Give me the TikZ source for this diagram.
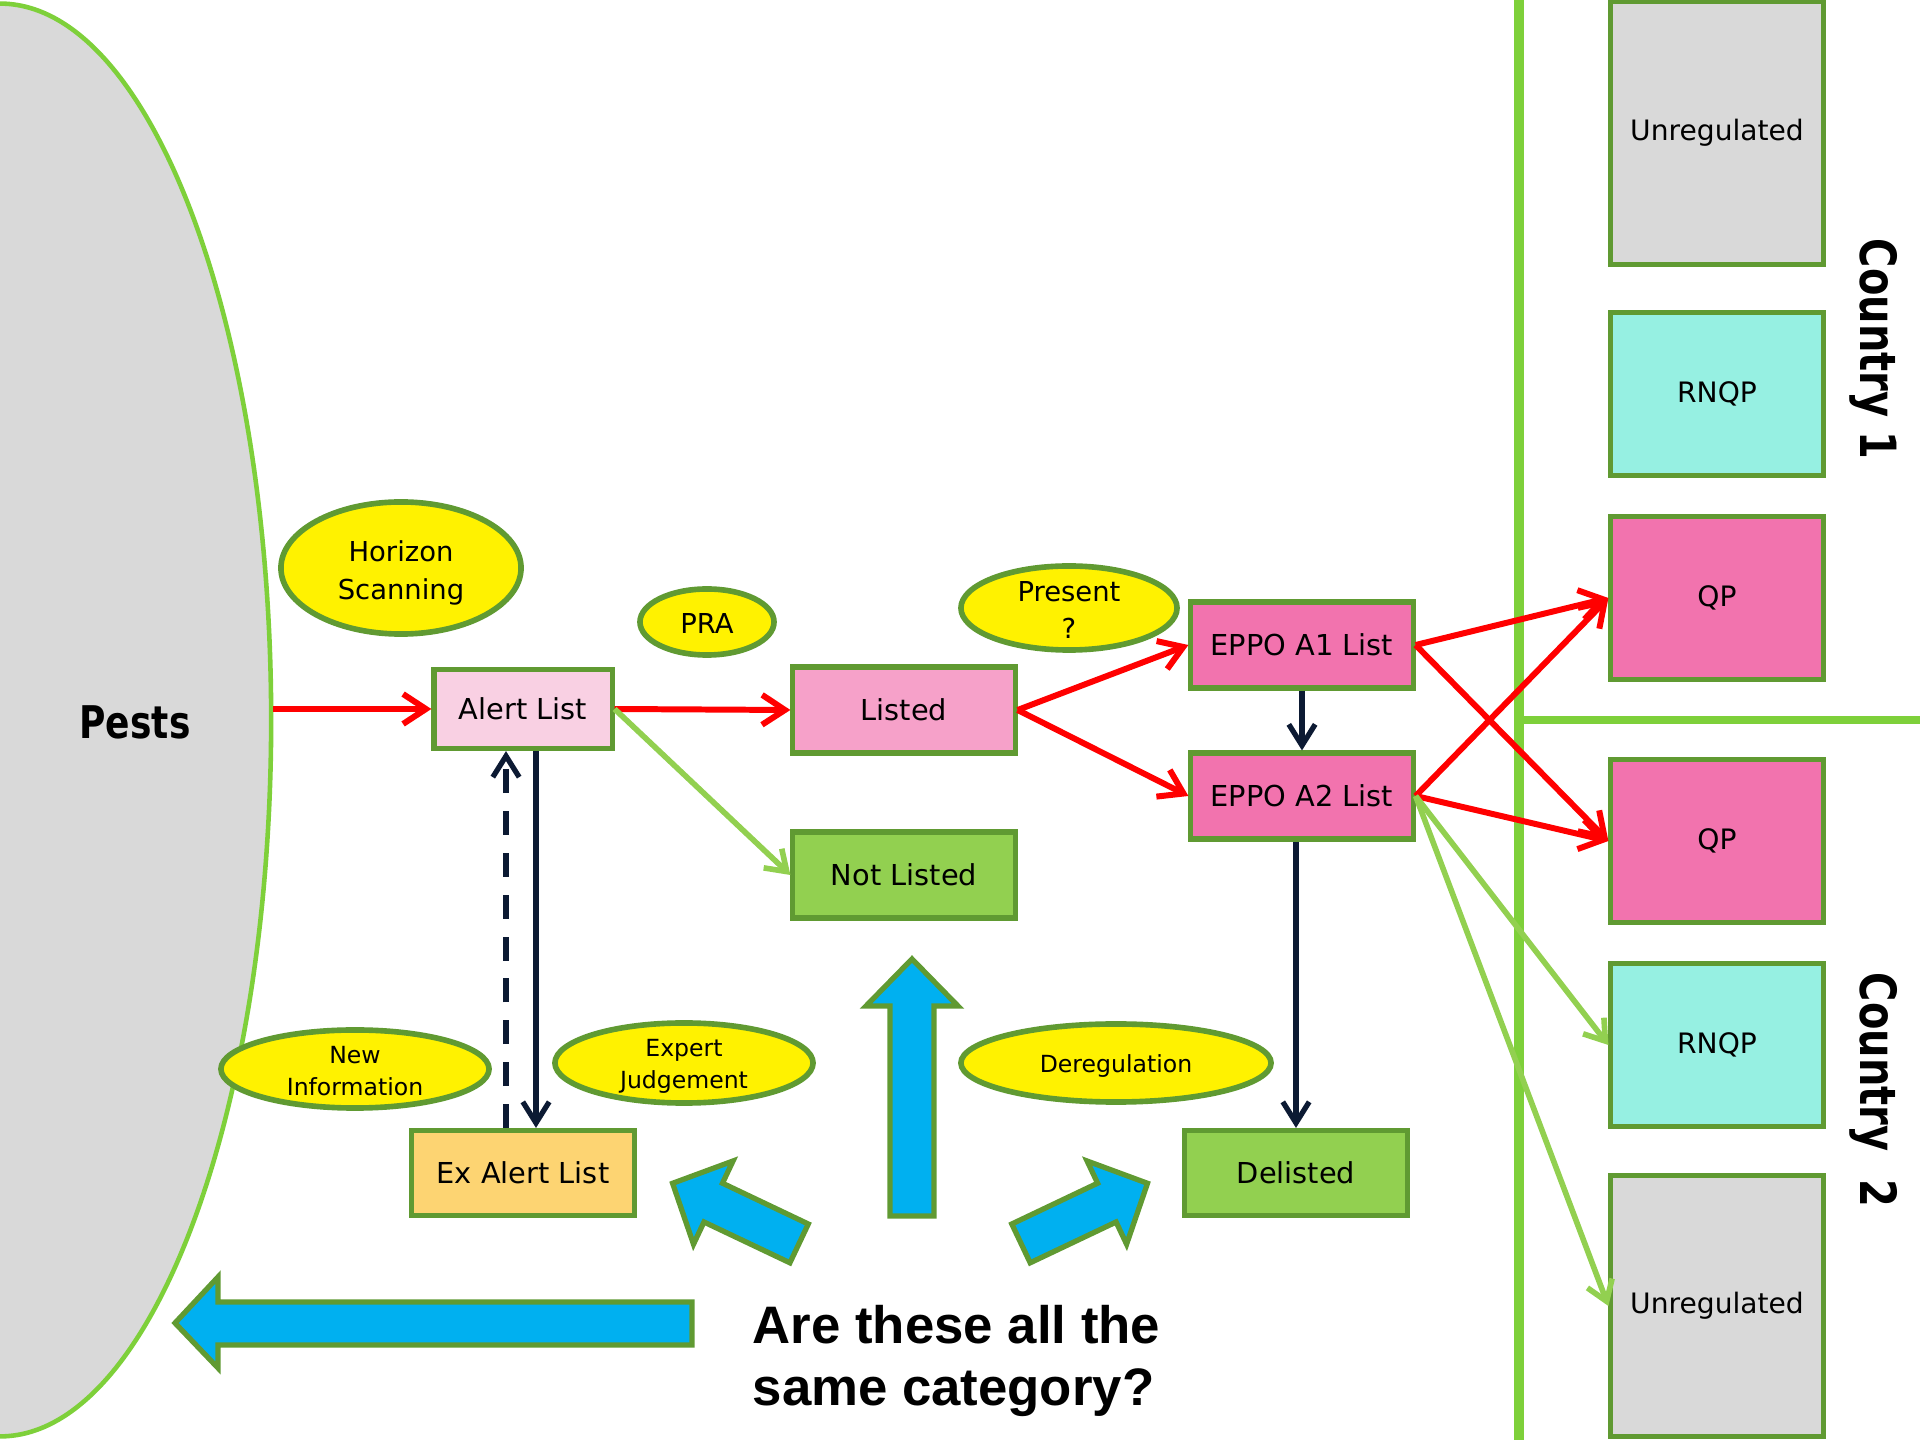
\documentclass[tikz,border=0pt]{standalone}
\usepackage{fontspec}
\setmainfont{DejaVu Sans}
\newfontfamily\bldfont[FakeStretch=0.8]{DejaVu Sans}
\newfontfamily\qfont{Liberation Sans}
\usetikzlibrary{arrows.meta,shapes.geometric,calc}
\definecolor{pestgray}{HTML}{D9D9D9}
\definecolor{brightgreen}{HTML}{7ED03A}
\definecolor{bgreen}{HTML}{609A32}
\definecolor{alertpink}{HTML}{F9D0E3}
\definecolor{listpink}{HTML}{F6A1C9}
\definecolor{hotpink}{HTML}{F273AE}
\definecolor{lgreen}{HTML}{92D050}
\definecolor{exorange}{HTML}{FDD472}
\definecolor{rnqpcyan}{HTML}{96F0E2}
\definecolor{blockblue}{HTML}{00B0F0}
\definecolor{darknavy}{HTML}{0C1A33}
\begin{document}
\begin{tikzpicture}[x=0.01cm,y=-0.01cm,
  box/.style={draw=bgreen, line width=1.45pt, minimum width=2.22cm, minimum height=0.86cm, inner sep=0pt, font=\fontsize{8.2}{10}\selectfont},
  rbox/.style={draw=bgreen, line width=1.45pt, minimum width=2.12cm, minimum height=1.63cm, inner sep=0pt, font=\fontsize{8}{10}\selectfont},
  ell/.style={ellipse, draw=bgreen, fill=yellow, line width=1.6pt, inner sep=0pt},
  bigtxt/.style={font=\fontsize{7.8}{10.8}\selectfont, align=center, inner sep=0pt},
  smalltxt/.style={font=\fontsize{6.7}{9.1}\selectfont, align=center, inner sep=0pt},
  redarr/.style={draw=red, line width=1.7pt, -{Straight Barb[length=6.5pt,width=8.5pt]}},
  grnarr/.style={draw=lgreen, line width=1.6pt, -{Straight Barb[length=5.5pt,width=7.5pt]}},
  navyarr/.style={draw=darknavy, line width=1.5pt, -{Straight Barb[length=6pt,width=7.5pt]}},
  blockarr/.style={fill=blockblue, draw=bgreen, line width=1.5pt, line join=miter},
  divider/.style={draw=brightgreen}
]
\useasboundingbox (0,0) rectangle (1920,1440);
\clip (0,0) rectangle (1920,1440);

% Pests
\node[ellipse, draw=brightgreen, fill=pestgray, line width=1.3pt, minimum width=5.42cm, minimum height=14.32cm, inner sep=0pt] (pests) at (0,720) {};
\node[font=\bldfont\bfseries\fontsize{12.8}{15}\selectfont, inner sep=0pt] (peststxt) at (135,722) {Pests};

% dividers
\draw[divider, line width=3.1pt] (1519,0) -- (1519,1440);
\draw[divider, line width=2pt] (1519,720) -- (1920,720);

% main boxes
\node[box, fill=alertpink, minimum width=1.78cm, minimum height=0.79cm] (alert) at (523,709) {Alert List};
\node[box, fill=listpink] (listed) at (904,710) {Listed};
\node[box, fill=lgreen] (notlisted) at (904,875) {Not Listed};
\node[box, fill=hotpink] (a1) at (1302,645) {EPPO A1 List};
\node[box, fill=hotpink] (a2) at (1302,796) {EPPO A2 List};
\node[box, fill=exorange, minimum width=2.22cm, minimum height=0.85cm] (exalert) at (523,1173) {Ex Alert List};
\node[box, fill=lgreen, minimum width=2.22cm, minimum height=0.85cm] (delisted) at (1296,1173) {Delisted};

% right boxes
\node[rbox, fill=pestgray, minimum height=2.62cm] (unreg1) at (1717,133) {Unregulated};
\node[rbox, fill=rnqpcyan] (rnqp1) at (1717,394) {RNQP};
\node[rbox, fill=hotpink] (qp1) at (1717,598) {QP};
\node[rbox, fill=hotpink] (qp2) at (1717,841) {QP};
\node[rbox, fill=rnqpcyan] (rnqp2) at (1717,1045) {RNQP};
\node[rbox, fill=pestgray, minimum height=2.60cm] (unreg2) at (1717,1306) {Unregulated};

\node[font=\bldfont\bfseries\fontsize{14.2}{16}\selectfont, rotate=-90, inner sep=0pt] (country1) at (1874,349) {Country 1};
\node[font=\bldfont\bfseries\fontsize{14.2}{16}\selectfont, rotate=-90, inner sep=0pt] (country2) at (1874,1090) {Country\ \ 2};

% ellipses
\node[ell, minimum width=2.40cm, minimum height=1.32cm] (horizon) at (401,568) {};
\node[bigtxt] (horizontxt) at ($(horizon)+(0,5)$) {Horizon\\Scanning};
\node[ell, minimum width=1.34cm, minimum height=0.66cm] (pra) at (707,622) {};
\node[bigtxt] (pratxt) at ($(pra)+(0,2)$) {PRA};
\node[ell, minimum width=2.16cm, minimum height=0.84cm] (present) at (1069,608) {};
\node[bigtxt] (presenttxt) at ($(present)+(0,2)$) {Present\\?};
\node[ell, minimum width=2.68cm, minimum height=0.78cm] (newinfo) at (355,1069) {};
\node[smalltxt] (newinfotxt) at ($(newinfo)+(0,2)$) {New\\Information};
\node[ell, minimum width=2.58cm, minimum height=0.80cm] (expert) at (684,1063) {};
\node[smalltxt] (experttxt) at ($(expert)+(0,3)$) {Expert\\Judgement};
\node[ell, minimum width=3.10cm, minimum height=0.78cm] (dereg) at (1116,1063) {};
\node[smalltxt] (deregtxt) at ($(dereg)+(0,3)$) {Deregulation};

% red arrows
\draw[redarr] (pests.east |- alert.west) -- (alert.west);
\draw[redarr] (alert.east) -- (listed.west);
\draw[redarr] (listed.east) -- (a1.west);
\draw[redarr] (listed.east) -- (a2.west);
\draw[redarr] (a1.east) -- (qp1.west);
\draw[redarr] (a1.east) -- (qp2.west);
\draw[redarr] (a2.east) -- (qp1.west);
\draw[redarr] (a2.east) -- (qp2.west);

% green arrows
\draw[grnarr] (alert.east) -- (notlisted.west);
\draw[grnarr] (a2.east) -- (rnqp2.west);
\draw[grnarr] (a2.east) -- (unreg2.west);

% navy arrows
\draw[navyarr] ($(alert.south)+(13,0)$) -- ($(exalert.north)+(13,0)$);
\draw[navyarr, dash pattern=on 6.8pt off 5.1pt] ($(exalert.north)+(-17,0)$) -- ($(alert.south)+(-17,0)$);
\draw[navyarr] (a1.south) -- (a2.north);
\draw[navyarr] (delisted.north |- a2.south) -- (delisted.north);

% block arrows
\draw[blockarr] (692,1302) -- (218,1302) -- (218,1277) -- (175,1323) -- (218,1368) -- (218,1345) -- (692,1345) -- cycle;
\draw[blockarr] (890,1216) -- (890,1006) -- (866,1006) -- (912,959) -- (958,1006) -- (934,1006) -- (934,1216) -- cycle;
\draw[blockarr] (672.6,1183.3) -- (733.0,1161.0) -- (722.5,1183.2) -- (808.3,1224.0) -- (789.9,1262.8) -- (704.0,1222.0) -- (693.5,1244.2) -- cycle;
\draw[blockarr] (1147.5,1183.3) -- (1087.1,1161.0) -- (1097.6,1183.2) -- (1011.8,1224.0) -- (1030.2,1262.8) -- (1116.1,1222.0) -- (1126.6,1244.2) -- cycle;

% question
\node[font=\qfont\bfseries\fontsize{15}{17.9}\selectfont, align=left, anchor=west, inner sep=0pt] (question) at (752,1361) {Are these all the\\same category?};
\end{tikzpicture}
\end{document}
